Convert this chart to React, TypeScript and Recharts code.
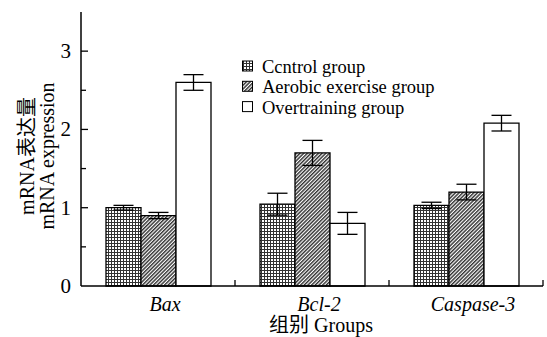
import React from 'react';
import { BarChart, Bar, XAxis, YAxis, ErrorBar } from 'recharts';

const categories = ['Bax', 'Bcl-2', 'Caspase-3'];
const controlValues = [1.0, 1.045, 1.03];
const controlErrors = [0.03, 0.14, 0.04];
const aerobicValues = [0.9, 1.7, 1.2];
const aerobicErrors = [0.04, 0.16, 0.1];
const overValues = [2.6, 0.8, 2.08];
const overErrors = [0.1, 0.14, 0.1];
const yTicks = [0, 0.5, 1, 1.5, 2, 2.5, 3];
const seriesNames = ['Ccntrol group', 'Aerobic exercise group', 'Overtraining group'];

const data = categories.map((c, i) => ({
  name: c,
  control: controlValues[i],
  controlErr: controlErrors[i],
  aerobic: aerobicValues[i],
  aerobicErr: aerobicErrors[i],
  over: overValues[i],
  overErr: overErrors[i],
}));

const FONT = "'Liberation Serif', 'Noto Sans CJK SC', serif";
const fs = (size: number, italic = false) => ({ fontFamily: FONT, fontSize: size, fontStyle: italic ? 'italic' : 'normal' });

const YTick = (props: any) => {
  const { x, y, payload } = props;
  const v = payload.value;
  const major = Number.isInteger(v);
  return (
    <g>
      {v !== 0 && <line x1={x} x2={x + (major ? 7 : 5)} y1={y} y2={y} stroke="#000" strokeWidth={1.3} />}
      {major && (
        <text x={x - 10} y={y} dy={7} textAnchor="end" style={fs(21)} fill="#000">
          {String(v)}
        </text>
      )}
    </g>
  );
};

const XTick = (props: any) => {
  const { x, y, payload } = props;
  const half = payload.offset ?? 77;
  return (
    <g>
      <line x1={x + half} x2={x + half} y1={y} y2={y - 6} stroke="#000" strokeWidth={1.3} />
      <text x={x} dx={7} y={y + 25} textAnchor="middle" style={fs(20, true)} fill="#000">
        {String(payload.value)}
      </text>
    </g>
  );
};

const YLabel = (props: any) => {
  const vb = props.viewBox || { x: 0, y: 12, width: 81, height: 274 };
  const cy = vb.y + vb.height / 2 + 7;
  return (
    <g fill="#000">
      <text x={27} y={cy} transform={`rotate(-90 27 ${cy})`} textAnchor="middle" dominantBaseline="central" style={fs(20)}>
        mRNA表达量
      </text>
      <text x={47} y={cy} transform={`rotate(-90 47 ${cy})`} textAnchor="middle" dominantBaseline="central" style={fs(20)}>
        mRNA expression
      </text>
    </g>
  );
};

const XLabel = (props: any) => {
  const vb = props.viewBox || { x: 81, y: 286, width: 462, height: 51 };
  const cx = vb.x + vb.width / 2 + 9;
  return (
    <text x={cx} y={vb.y + 46} textAnchor="middle" style={fs(20)} fill="#000">
      组别 Groups
    </text>
  );
};

const legendFills = ['url(#gridPat)', 'url(#hatchPat)', '#fff'];

const Legend3 = () => (
  <g fill="#000">
    {seriesNames.map((n, i) => (
      <g key={n}>
        <rect x={242.5} y={61 + i * 20.3} width={10} height={10} fill={legendFills[i]} stroke="#000" strokeWidth={1} />
        <text x={262} y={72.5 + i * 20.5} style={fs(18.5)}>{n}</text>
      </g>
    ))}
  </g>
);

const css = `svg text, svg tspan { font-family: 'Liberation Serif', 'Noto Sans CJK SC', serif !important; }`;

export default function App() {
  return (
    <div style={{ position: 'absolute', left: 0, top: 0, background: '#fff', fontFamily: FONT }}>
      <style>{css}</style>
      <BarChart
        width={547}
        height={337}
        data={data}
        margin={{ top: 12, right: 4, left: 0, bottom: 0 }}
        barCategoryGap={25}
        barGap={0}
      >
        <defs>
          <pattern id="gridPat" width={3} height={3} patternUnits="userSpaceOnUse">
            <rect width={3} height={3} fill="#fff" />
            <path d="M0 0.5 H3 M0.5 0 V3" stroke="#333" strokeWidth={1} />
          </pattern>
          <pattern id="hatchPat" width={2.6} height={2.6} patternUnits="userSpaceOnUse" patternTransform="rotate(45)">
            <rect width={2.6} height={2.6} fill="#fff" />
            <line x1={0.7} y1={0} x2={0.7} y2={2.6} stroke="#333" strokeWidth={1.5} />
          </pattern>
        </defs>
        <XAxis
          dataKey="name"
          height={51}
          tickSize={0}
          tickMargin={0}
          tick={<XTick />}
          axisLine={{ stroke: '#000', strokeWidth: 1.5 }}
          tickLine={false}
          label={<XLabel />}
          interval={0}
        />
        <YAxis
          width={81}
          domain={[0, 3.5]}
          ticks={yTicks}
          tickSize={0}
          tickMargin={0}
          tick={<YTick />}
          tickLine={false}
          axisLine={{ stroke: '#000', strokeWidth: 1.5 }}
          interval={0}
          label={<YLabel />}
        />
        <Bar dataKey="control" fill="url(#gridPat)" stroke="#000" strokeWidth={1.3} isAnimationActive={false}>
          <ErrorBar dataKey="controlErr" width={10} stroke="#000" strokeWidth={1.3} />
        </Bar>
        <Bar dataKey="aerobic" fill="url(#hatchPat)" stroke="#000" strokeWidth={1.3} isAnimationActive={false}>
          <ErrorBar dataKey="aerobicErr" width={10} stroke="#000" strokeWidth={1.3} />
        </Bar>
        <Bar dataKey="over" fill="#fff" stroke="#000" strokeWidth={1.3} isAnimationActive={false}>
          <ErrorBar dataKey="overErr" width={10} stroke="#000" strokeWidth={1.3} />
        </Bar>
        <Legend3 />
      </BarChart>
    </div>
  );
}
